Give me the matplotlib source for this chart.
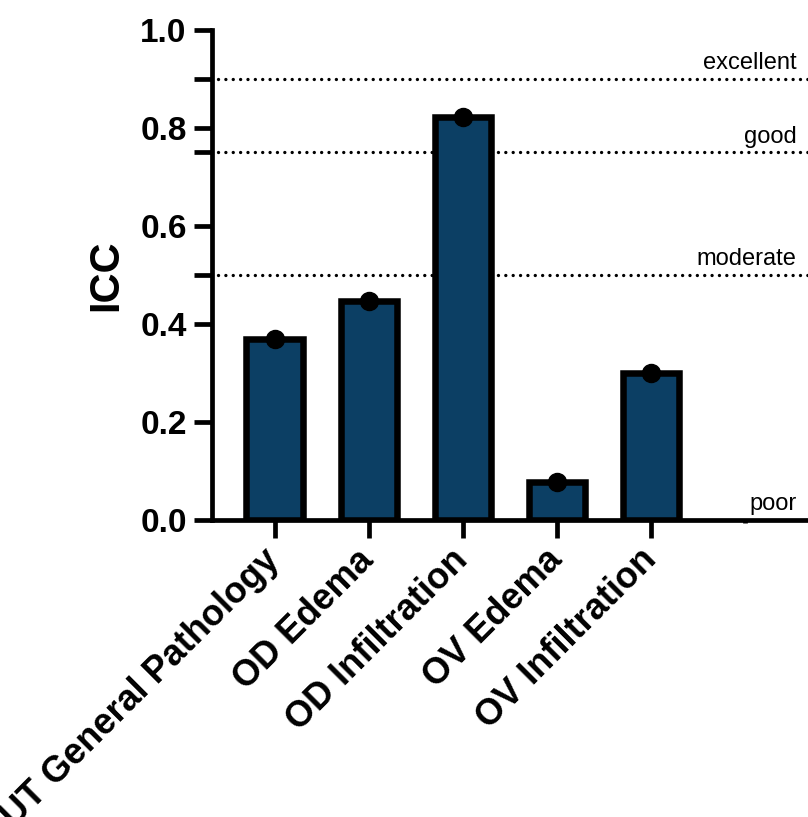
import matplotlib
matplotlib.use('Agg')
import matplotlib.pyplot as plt

# data
categories = ['UT General Pathology', 'OD Edema', 'OD Infiltration',
              'OV Edema', 'OV Infiltration', '']
icc = [0.37, 0.447, 0.823, 0.078, 0.30]

# reliability thresholds
levels = [0.9, 0.75, 0.5, 0.0]
level_names = ['excellent', 'good', 'moderate', 'poor']

y_ticks = [0.0, 0.2, 0.4, 0.5, 0.6, 0.75, 0.8, 0.9, 1.0]
y_labels = ['0.0', '0.2', '0.4', '', '0.6', '', '0.8', '', '1.0']

plt.rcParams['font.family'] = ['Liberation Sans', 'DejaVu Sans']

fig = plt.figure(figsize=(8.08, 8.17), dpi=100)
ax = fig.add_axes([0.262, 0.3635, 0.738, 0.5998])

x = list(range(len(icc)))
ax.bar(x, icc, width=0.6, color='#0c3f64', edgecolor='black', linewidth=4.7, zorder=2)
ax.plot(x, icc, 'o', color='black', markersize=13, zorder=3)

# threshold lines and their names
for lv, name in zip(levels, level_names):
    if lv > 0:
        ax.plot([-0.6, 5.7], [lv, lv], color='black', lw=2.4,
                linestyle=(0, (0.01, 2.2)), dash_capstyle='round', zorder=1)
    ax.text(5.55, lv + 0.01, name, ha='right', va='bottom', fontsize=17)

ax.set_xlim(-0.67, 5.67)
ax.set_ylim(0, 1.0)

ax.set_xticks(range(len(categories)))
ax.set_xticklabels(categories, rotation=45, ha='right', va='center',
                   rotation_mode='anchor', fontsize=26, fontweight='bold')
ax.set_yticks(y_ticks)
ax.set_yticklabels(y_labels, fontsize=24, fontweight='bold')
ax.set_ylabel('ICC', fontsize=30, fontweight='bold', labelpad=10)

for s in ['top', 'right']:
    ax.spines[s].set_visible(False)
for s in ['left', 'bottom']:
    ax.spines[s].set_linewidth(3.4)
    ax.spines[s].set_clip_on(False)
ax.tick_params(axis='both', length=13, width=3.4, pad=5)
ax.tick_params(axis='x', pad=12)
# the empty last category only has a tiny tick
ax.xaxis.get_major_ticks()[5].tick1line.set_markersize(2)

fig.savefig('out.png', dpi=100)
